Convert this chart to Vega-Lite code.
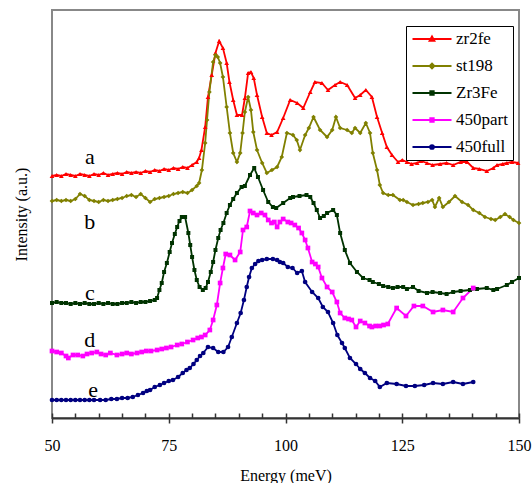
{
  "$schema": "https://vega.github.io/schema/vega-lite/v6.json",
  "width": 467,
  "height": 408,
  "autosize": {"type": "none"},
  "padding": {"left": 52, "top": 10, "right": 13, "bottom": 65},
  "background": "white",
  "config": {
    "view": {"stroke": "#888888", "strokeWidth": 2},
    "font": "Liberation Serif",
    "style": {
      "guide-label": {"font": "Liberation Serif", "fontSize": 16, "fill": "black"},
      "guide-title": {"font": "Liberation Serif", "fontSize": 16, "fontWeight": "normal", "fill": "black"}
    },
    "axis": {"labelFont": "Liberation Serif", "titleFont": "Liberation Serif", "labelFontSize": 16, "labelColor": "black",
      "titleFontSize": 16, "titleFontWeight": "normal", "titleColor": "black"},
    "axisX": {"labelFont": "Liberation Serif", "titleFont": "Liberation Serif", "titleFontWeight": "normal",
      "tickWidth": 1.5, "tickColor": "#333333", "domainColor": "#333333", "domainWidth": 2, "labelPadding": 14, "labelFlush": false, "titlePadding": 14,
      "gridColor": "#333333", "gridWidth": 1.5, "gridOpacity": 1},
    "axisY": {"labels": false, "ticks": false, "domain": false, "grid": false, "titlePadding": 23},
    "legend": {"labelFont": "Liberation Serif", "labelFontSize": 17, "labelColor": "black", "symbolOpacity": 1}
  },
  "datasets": {
    "series": [
      {"s":"zr2fe","E":50,"I":242},{"s":"zr2fe","E":51,"I":243},{"s":"zr2fe","E":52,"I":242},{"s":"zr2fe","E":53,"I":244},{"s":"zr2fe","E":54,"I":243},{"s":"zr2fe","E":55,"I":242},{"s":"zr2fe","E":56,"I":244},{"s":"zr2fe","E":57,"I":243},{"s":"zr2fe","E":58,"I":242},{"s":"zr2fe","E":59,"I":244},{"s":"zr2fe","E":60,"I":243},{"s":"zr2fe","E":61,"I":245},{"s":"zr2fe","E":62,"I":243},{"s":"zr2fe","E":63,"I":244},{"s":"zr2fe","E":64,"I":245},{"s":"zr2fe","E":65,"I":244},{"s":"zr2fe","E":66,"I":246},{"s":"zr2fe","E":67,"I":245},{"s":"zr2fe","E":68,"I":246},{"s":"zr2fe","E":69,"I":245},{"s":"zr2fe","E":70,"I":247},{"s":"zr2fe","E":71,"I":246},{"s":"zr2fe","E":72,"I":248},{"s":"zr2fe","E":73,"I":247},{"s":"zr2fe","E":74,"I":249},{"s":"zr2fe","E":75,"I":248},{"s":"zr2fe","E":76,"I":250},{"s":"zr2fe","E":77,"I":249},{"s":"zr2fe","E":78,"I":251},{"s":"zr2fe","E":79,"I":250},{"s":"zr2fe","E":80,"I":253},{"s":"zr2fe","E":81,"I":256},{"s":"zr2fe","E":81.5,"I":260},{"s":"zr2fe","E":82,"I":268},{"s":"zr2fe","E":82.8,"I":291},{"s":"zr2fe","E":83.4,"I":321},{"s":"zr2fe","E":84.2,"I":343},{"s":"zr2fe","E":85,"I":365},{"s":"zr2fe","E":85.8,"I":377},{"s":"zr2fe","E":86.6,"I":370},{"s":"zr2fe","E":87.4,"I":355},{"s":"zr2fe","E":88,"I":336},{"s":"zr2fe","E":88.8,"I":318},{"s":"zr2fe","E":89.6,"I":303},{"s":"zr2fe","E":90.7,"I":303},{"s":"zr2fe","E":91.3,"I":320},{"s":"zr2fe","E":92,"I":345},{"s":"zr2fe","E":92.6,"I":346},{"s":"zr2fe","E":93.2,"I":340},{"s":"zr2fe","E":93.9,"I":323},{"s":"zr2fe","E":95,"I":301},{"s":"zr2fe","E":96,"I":285},{"s":"zr2fe","E":97,"I":283},{"s":"zr2fe","E":98.2,"I":286},{"s":"zr2fe","E":99.5,"I":300},{"s":"zr2fe","E":101,"I":318},{"s":"zr2fe","E":102.5,"I":315},{"s":"zr2fe","E":103.8,"I":310},{"s":"zr2fe","E":105.3,"I":326},{"s":"zr2fe","E":106.3,"I":336},{"s":"zr2fe","E":107.8,"I":335},{"s":"zr2fe","E":109.1,"I":328},{"s":"zr2fe","E":110.6,"I":333},{"s":"zr2fe","E":111.7,"I":336},{"s":"zr2fe","E":113.2,"I":333},{"s":"zr2fe","E":114.9,"I":320},{"s":"zr2fe","E":116,"I":323},{"s":"zr2fe","E":117.2,"I":328},{"s":"zr2fe","E":118.5,"I":321},{"s":"zr2fe","E":119.6,"I":301},{"s":"zr2fe","E":120.7,"I":285},{"s":"zr2fe","E":121.7,"I":271},{"s":"zr2fe","E":122.8,"I":263},{"s":"zr2fe","E":124.1,"I":256},{"s":"zr2fe","E":125,"I":258},{"s":"zr2fe","E":126,"I":256},{"s":"zr2fe","E":127,"I":254},{"s":"zr2fe","E":128.2,"I":255},{"s":"zr2fe","E":129,"I":257},{"s":"zr2fe","E":130.3,"I":255},{"s":"zr2fe","E":131.5,"I":253},{"s":"zr2fe","E":133.1,"I":254},{"s":"zr2fe","E":134.5,"I":255},{"s":"zr2fe","E":135.9,"I":253},{"s":"zr2fe","E":137.5,"I":256},{"s":"zr2fe","E":138.9,"I":256},{"s":"zr2fe","E":140.2,"I":250},{"s":"zr2fe","E":141.5,"I":249},{"s":"zr2fe","E":143.1,"I":247},{"s":"zr2fe","E":144.5,"I":250},{"s":"zr2fe","E":145.3,"I":253},{"s":"zr2fe","E":146.5,"I":254},{"s":"zr2fe","E":147.4,"I":255},{"s":"zr2fe","E":148.5,"I":256},{"s":"zr2fe","E":149.8,"I":255},

      {"s":"st198","E":50,"I":217},{"s":"st198","E":51,"I":218},{"s":"st198","E":52,"I":217},{"s":"st198","E":53,"I":218},{"s":"st198","E":54,"I":217},{"s":"st198","E":55,"I":219},{"s":"st198","E":56,"I":224},{"s":"st198","E":57,"I":222},{"s":"st198","E":58,"I":218},{"s":"st198","E":59,"I":217},{"s":"st198","E":60,"I":216},{"s":"st198","E":61,"I":218},{"s":"st198","E":62,"I":217},{"s":"st198","E":63,"I":218},{"s":"st198","E":64,"I":219},{"s":"st198","E":65,"I":220},{"s":"st198","E":66,"I":222},{"s":"st198","E":67,"I":223},{"s":"st198","E":68,"I":221},{"s":"st198","E":69,"I":224},{"s":"st198","E":70,"I":220},{"s":"st198","E":71,"I":216},{"s":"st198","E":72,"I":219},{"s":"st198","E":73,"I":220},{"s":"st198","E":74,"I":221},{"s":"st198","E":75,"I":222},{"s":"st198","E":76,"I":224},{"s":"st198","E":77,"I":225},{"s":"st198","E":78,"I":226},{"s":"st198","E":79,"I":225},{"s":"st198","E":80,"I":228},{"s":"st198","E":81,"I":232},{"s":"st198","E":81.5,"I":235},{"s":"st198","E":82.1,"I":248},{"s":"st198","E":82.8,"I":275},{"s":"st198","E":83.2,"I":298},{"s":"st198","E":83.7,"I":326},{"s":"st198","E":84.5,"I":356},{"s":"st198","E":85,"I":363},{"s":"st198","E":85.5,"I":361},{"s":"st198","E":86,"I":355},{"s":"st198","E":86.6,"I":341},{"s":"st198","E":87.4,"I":311},{"s":"st198","E":88.1,"I":285},{"s":"st198","E":88.8,"I":265},{"s":"st198","E":89.6,"I":256},{"s":"st198","E":90.3,"I":265},{"s":"st198","E":90.8,"I":285},{"s":"st198","E":91.3,"I":306},{"s":"st198","E":92,"I":321},{"s":"st198","E":92.6,"I":308},{"s":"st198","E":93.1,"I":286},{"s":"st198","E":93.9,"I":268},{"s":"st198","E":95,"I":255},{"s":"st198","E":96,"I":245},{"s":"st198","E":97.1,"I":248},{"s":"st198","E":98.2,"I":251},{"s":"st198","E":99.2,"I":261},{"s":"st198","E":100.3,"I":285},{"s":"st198","E":101.6,"I":283},{"s":"st198","E":102.4,"I":278},{"s":"st198","E":103.1,"I":268},{"s":"st198","E":104.2,"I":283},{"s":"st198","E":105,"I":290},{"s":"st198","E":106,"I":301},{"s":"st198","E":107.4,"I":288},{"s":"st198","E":108.9,"I":281},{"s":"st198","E":110,"I":288},{"s":"st198","E":110.8,"I":301},{"s":"st198","E":111.7,"I":290},{"s":"st198","E":113.2,"I":288},{"s":"st198","E":114.2,"I":285},{"s":"st198","E":114.9,"I":290},{"s":"st198","E":116,"I":285},{"s":"st198","E":117.2,"I":295},{"s":"st198","E":118.1,"I":285},{"s":"st198","E":118.7,"I":265},{"s":"st198","E":119.6,"I":248},{"s":"st198","E":120.2,"I":233},{"s":"st198","E":120.9,"I":225},{"s":"st198","E":122,"I":223},{"s":"st198","E":123,"I":223},{"s":"st198","E":124.5,"I":218},{"s":"st198","E":125.2,"I":218},{"s":"st198","E":126,"I":216},{"s":"st198","E":127.3,"I":213},{"s":"st198","E":128.5,"I":214},{"s":"st198","E":129.4,"I":215},{"s":"st198","E":130.5,"I":216},{"s":"st198","E":131.4,"I":218},{"s":"st198","E":132,"I":211},{"s":"st198","E":132.9,"I":220},{"s":"st198","E":133.7,"I":211},{"s":"st198","E":135,"I":216},{"s":"st198","E":136.3,"I":222},{"s":"st198","E":137.8,"I":216},{"s":"st198","E":139.1,"I":213},{"s":"st198","E":140.2,"I":208},{"s":"st198","E":141.5,"I":205},{"s":"st198","E":142.7,"I":201},{"s":"st198","E":144,"I":199},{"s":"st198","E":144.9,"I":198},{"s":"st198","E":146,"I":201},{"s":"st198","E":147,"I":204},{"s":"st198","E":148,"I":201},{"s":"st198","E":148.8,"I":198},{"s":"st198","E":150,"I":195},

      {"s":"Zr3Fe","E":50,"I":115},{"s":"Zr3Fe","E":51,"I":116},{"s":"Zr3Fe","E":52,"I":115},{"s":"Zr3Fe","E":53,"I":115},{"s":"Zr3Fe","E":54,"I":114},{"s":"Zr3Fe","E":55,"I":115},{"s":"Zr3Fe","E":56,"I":114},{"s":"Zr3Fe","E":57,"I":115},{"s":"Zr3Fe","E":58,"I":114},{"s":"Zr3Fe","E":59,"I":114},{"s":"Zr3Fe","E":60,"I":115},{"s":"Zr3Fe","E":61,"I":114},{"s":"Zr3Fe","E":62,"I":115},{"s":"Zr3Fe","E":63,"I":114},{"s":"Zr3Fe","E":64,"I":114},{"s":"Zr3Fe","E":65,"I":115},{"s":"Zr3Fe","E":66,"I":115},{"s":"Zr3Fe","E":67,"I":116},{"s":"Zr3Fe","E":68,"I":115},{"s":"Zr3Fe","E":69,"I":116},{"s":"Zr3Fe","E":70,"I":116},{"s":"Zr3Fe","E":71,"I":117},{"s":"Zr3Fe","E":72,"I":118},{"s":"Zr3Fe","E":72.5,"I":120},{"s":"Zr3Fe","E":73,"I":128},{"s":"Zr3Fe","E":73.5,"I":135},{"s":"Zr3Fe","E":74,"I":146},{"s":"Zr3Fe","E":74.6,"I":155},{"s":"Zr3Fe","E":75.2,"I":166},{"s":"Zr3Fe","E":75.7,"I":175},{"s":"Zr3Fe","E":76.3,"I":184},{"s":"Zr3Fe","E":76.8,"I":191},{"s":"Zr3Fe","E":77.3,"I":197},{"s":"Zr3Fe","E":77.8,"I":201},{"s":"Zr3Fe","E":78.5,"I":201},{"s":"Zr3Fe","E":79.2,"I":185},{"s":"Zr3Fe","E":79.6,"I":173},{"s":"Zr3Fe","E":80,"I":161},{"s":"Zr3Fe","E":80.5,"I":148},{"s":"Zr3Fe","E":81,"I":138},{"s":"Zr3Fe","E":81.6,"I":131},{"s":"Zr3Fe","E":82.3,"I":128},{"s":"Zr3Fe","E":82.9,"I":130},{"s":"Zr3Fe","E":83.4,"I":136},{"s":"Zr3Fe","E":84,"I":146},{"s":"Zr3Fe","E":84.5,"I":156},{"s":"Zr3Fe","E":85,"I":168},{"s":"Zr3Fe","E":85.6,"I":180},{"s":"Zr3Fe","E":86.1,"I":188},{"s":"Zr3Fe","E":86.7,"I":195},{"s":"Zr3Fe","E":87.4,"I":205},{"s":"Zr3Fe","E":88.1,"I":213},{"s":"Zr3Fe","E":88.8,"I":219},{"s":"Zr3Fe","E":89.6,"I":225},{"s":"Zr3Fe","E":90.6,"I":231},{"s":"Zr3Fe","E":91.3,"I":232},{"s":"Zr3Fe","E":92.4,"I":243},{"s":"Zr3Fe","E":93.3,"I":250},{"s":"Zr3Fe","E":94.1,"I":241},{"s":"Zr3Fe","E":95.2,"I":228},{"s":"Zr3Fe","E":96.3,"I":216},{"s":"Zr3Fe","E":97.3,"I":211},{"s":"Zr3Fe","E":98,"I":210},{"s":"Zr3Fe","E":99.5,"I":215},{"s":"Zr3Fe","E":101,"I":220},{"s":"Zr3Fe","E":101.6,"I":221},{"s":"Zr3Fe","E":103,"I":222},{"s":"Zr3Fe","E":104.5,"I":223},{"s":"Zr3Fe","E":105.3,"I":221},{"s":"Zr3Fe","E":106,"I":215},{"s":"Zr3Fe","E":106.7,"I":208},{"s":"Zr3Fe","E":107.4,"I":200},{"s":"Zr3Fe","E":108.2,"I":202},{"s":"Zr3Fe","E":108.9,"I":205},{"s":"Zr3Fe","E":110.2,"I":208},{"s":"Zr3Fe","E":111,"I":203},{"s":"Zr3Fe","E":111.7,"I":185},{"s":"Zr3Fe","E":112.7,"I":168},{"s":"Zr3Fe","E":113.8,"I":155},{"s":"Zr3Fe","E":115.3,"I":146},{"s":"Zr3Fe","E":116.6,"I":140},{"s":"Zr3Fe","E":118,"I":138},{"s":"Zr3Fe","E":118.7,"I":136},{"s":"Zr3Fe","E":120,"I":134},{"s":"Zr3Fe","E":120.9,"I":132},{"s":"Zr3Fe","E":122,"I":131},{"s":"Zr3Fe","E":123,"I":130},{"s":"Zr3Fe","E":124,"I":131},{"s":"Zr3Fe","E":125.2,"I":131},{"s":"Zr3Fe","E":126,"I":129},{"s":"Zr3Fe","E":127.3,"I":131},{"s":"Zr3Fe","E":128.5,"I":127},{"s":"Zr3Fe","E":130.3,"I":125},{"s":"Zr3Fe","E":131.5,"I":126},{"s":"Zr3Fe","E":133.1,"I":125},{"s":"Zr3Fe","E":134.5,"I":124},{"s":"Zr3Fe","E":135.9,"I":126},{"s":"Zr3Fe","E":137.5,"I":127},{"s":"Zr3Fe","E":139.5,"I":128},{"s":"Zr3Fe","E":141,"I":129},{"s":"Zr3Fe","E":143.1,"I":130},{"s":"Zr3Fe","E":144.5,"I":128},{"s":"Zr3Fe","E":145.3,"I":129},{"s":"Zr3Fe","E":147.4,"I":133},{"s":"Zr3Fe","E":148.5,"I":136},{"s":"Zr3Fe","E":150,"I":140},

      {"s":"450part","E":50,"I":67},{"s":"450part","E":51,"I":66},{"s":"450part","E":52,"I":65},{"s":"450part","E":53,"I":62},{"s":"450part","E":53.5,"I":60},{"s":"450part","E":54.5,"I":63},{"s":"450part","E":55.5,"I":63},{"s":"450part","E":56.6,"I":62},{"s":"450part","E":57.5,"I":64},{"s":"450part","E":58.5,"I":65},{"s":"450part","E":59.6,"I":66},{"s":"450part","E":60.5,"I":64},{"s":"450part","E":61.5,"I":63},{"s":"450part","E":62.5,"I":65},{"s":"450part","E":63.9,"I":63},{"s":"450part","E":65,"I":64},{"s":"450part","E":66,"I":65},{"s":"450part","E":67,"I":64},{"s":"450part","E":68.2,"I":65},{"s":"450part","E":69.2,"I":66},{"s":"450part","E":70.2,"I":67},{"s":"450part","E":71.2,"I":67},{"s":"450part","E":72.5,"I":68},{"s":"450part","E":73.5,"I":69},{"s":"450part","E":74.5,"I":70},{"s":"450part","E":75.5,"I":71},{"s":"450part","E":76.8,"I":73},{"s":"450part","E":77.8,"I":74},{"s":"450part","E":79,"I":76},{"s":"450part","E":80.2,"I":78},{"s":"450part","E":81.2,"I":80},{"s":"450part","E":82,"I":81},{"s":"450part","E":82.8,"I":83},{"s":"450part","E":83.8,"I":88},{"s":"450part","E":84.5,"I":98},{"s":"450part","E":85.3,"I":113},{"s":"450part","E":86,"I":135},{"s":"450part","E":86.6,"I":150},{"s":"450part","E":87.2,"I":164},{"s":"450part","E":88.1,"I":163},{"s":"450part","E":89.2,"I":158},{"s":"450part","E":90.3,"I":166},{"s":"450part","E":90.9,"I":188},{"s":"450part","E":91.7,"I":191},{"s":"450part","E":92.4,"I":207},{"s":"450part","E":93.1,"I":205},{"s":"450part","E":93.9,"I":203},{"s":"450part","E":94.8,"I":205},{"s":"450part","E":95.6,"I":203},{"s":"450part","E":96.3,"I":198},{"s":"450part","E":97,"I":195},{"s":"450part","E":97.6,"I":196},{"s":"450part","E":98.2,"I":191},{"s":"450part","E":98.8,"I":196},{"s":"450part","E":99.5,"I":199},{"s":"450part","E":100.5,"I":196},{"s":"450part","E":101.2,"I":195},{"s":"450part","E":102,"I":193},{"s":"450part","E":102.8,"I":190},{"s":"450part","E":103.5,"I":185},{"s":"450part","E":104.2,"I":178},{"s":"450part","E":104.8,"I":170},{"s":"450part","E":105.7,"I":156},{"s":"450part","E":106.4,"I":154},{"s":"450part","E":107,"I":151},{"s":"450part","E":107.8,"I":140},{"s":"450part","E":108.9,"I":131},{"s":"450part","E":110,"I":126},{"s":"450part","E":111,"I":116},{"s":"450part","E":111.7,"I":105},{"s":"450part","E":112.7,"I":100},{"s":"450part","E":113.5,"I":99},{"s":"450part","E":114.2,"I":98},{"s":"450part","E":115.1,"I":91},{"s":"450part","E":116,"I":97},{"s":"450part","E":117,"I":95},{"s":"450part","E":118,"I":92},{"s":"450part","E":118.5,"I":91},{"s":"450part","E":119.3,"I":92},{"s":"450part","E":120.2,"I":92},{"s":"450part","E":121,"I":93},{"s":"450part","E":121.9,"I":94},{"s":"450part","E":123.8,"I":110},{"s":"450part","E":125.8,"I":102},{"s":"450part","E":127.5,"I":112},{"s":"450part","E":129.4,"I":112},{"s":"450part","E":131.6,"I":106},{"s":"450part","E":133.7,"I":108},{"s":"450part","E":135.9,"I":106},{"s":"450part","E":138,"I":120},{"s":"450part","E":140.2,"I":130},

      {"s":"450full","E":50,"I":18},{"s":"450full","E":51,"I":18},{"s":"450full","E":52,"I":18},{"s":"450full","E":53,"I":18},{"s":"450full","E":54,"I":18},{"s":"450full","E":55,"I":18},{"s":"450full","E":56,"I":18},{"s":"450full","E":57,"I":18},{"s":"450full","E":58,"I":18},{"s":"450full","E":59,"I":18},{"s":"450full","E":60.3,"I":18},{"s":"450full","E":61.5,"I":18},{"s":"450full","E":62.7,"I":19},{"s":"450full","E":63.9,"I":19},{"s":"450full","E":65,"I":20},{"s":"450full","E":66.2,"I":20},{"s":"450full","E":67.3,"I":21},{"s":"450full","E":68.4,"I":23},{"s":"450full","E":69.5,"I":25},{"s":"450full","E":70.3,"I":27},{"s":"450full","E":71,"I":28},{"s":"450full","E":72,"I":31},{"s":"450full","E":73.1,"I":33},{"s":"450full","E":74,"I":35},{"s":"450full","E":75,"I":37},{"s":"450full","E":75.9,"I":38},{"s":"450full","E":77,"I":41},{"s":"450full","E":78,"I":45},{"s":"450full","E":78.8,"I":48},{"s":"450full","E":79.5,"I":50},{"s":"450full","E":80.3,"I":54},{"s":"450full","E":81,"I":58},{"s":"450full","E":81.7,"I":62},{"s":"450full","E":82.4,"I":65},{"s":"450full","E":83.4,"I":71},{"s":"450full","E":84.5,"I":70},{"s":"450full","E":85.6,"I":66},{"s":"450full","E":86.7,"I":66},{"s":"450full","E":87.7,"I":71},{"s":"450full","E":88.5,"I":81},{"s":"450full","E":89.6,"I":95},{"s":"450full","E":90.4,"I":105},{"s":"450full","E":91.1,"I":118},{"s":"450full","E":91.7,"I":131},{"s":"450full","E":92.2,"I":141},{"s":"450full","E":92.8,"I":150},{"s":"450full","E":93.5,"I":154},{"s":"450full","E":94.2,"I":157},{"s":"450full","E":95,"I":158},{"s":"450full","E":96,"I":159},{"s":"450full","E":97.3,"I":159},{"s":"450full","E":98.2,"I":158},{"s":"450full","E":98.8,"I":156},{"s":"450full","E":99.5,"I":155},{"s":"450full","E":100.5,"I":151},{"s":"450full","E":101.5,"I":150},{"s":"450full","E":102.5,"I":145},{"s":"450full","E":103.5,"I":147},{"s":"450full","E":104.2,"I":136},{"s":"450full","E":105.7,"I":126},{"s":"450full","E":107,"I":120},{"s":"450full","E":108,"I":111},{"s":"450full","E":109.1,"I":106},{"s":"450full","E":110.2,"I":95},{"s":"450full","E":111.1,"I":83},{"s":"450full","E":112.1,"I":75},{"s":"450full","E":112.7,"I":70},{"s":"450full","E":113.8,"I":60},{"s":"450full","E":115.1,"I":54},{"s":"450full","E":116,"I":49},{"s":"450full","E":117,"I":45},{"s":"450full","E":118.1,"I":40},{"s":"450full","E":119.2,"I":37},{"s":"450full","E":120.2,"I":31},{"s":"450full","E":121.7,"I":35},{"s":"450full","E":123.8,"I":34},{"s":"450full","E":125.8,"I":32},{"s":"450full","E":127.7,"I":32},{"s":"450full","E":129.7,"I":33},{"s":"450full","E":131.6,"I":35},{"s":"450full","E":133.7,"I":34},{"s":"450full","E":135.9,"I":36},{"s":"450full","E":138,"I":34},{"s":"450full","E":140.2,"I":36}
    ],
    "labels": [
      {"t":"a","E":58.1,"I":261},
      {"t":"b","E":58.1,"I":196},
      {"t":"c","E":58.1,"I":125},
      {"t":"d","E":58.1,"I":78},
      {"t":"e","E":58.8,"I":28}
    ]
  },
  "encoding": {
    "x": {"field": "E", "type": "quantitative", "scale": {"domain": [50, 150], "nice": false, "zero": false},
      "axis": {"title": "Energy (meV)", "values": [50,55,60,65,70,75,80,85,90,95,100,105,110,115,120,125,130,135,140,145,150],
        "labelExpr": "datum.value % 25 === 0 ? datum.label : ''", "labelOverlap": false, "tickSize": 5,
        "labelFont": "Liberation Serif", "labelFontSize": 16, "labelColor": "black",
        "titleFont": "Liberation Serif", "titleFontSize": 16, "titleFontWeight": "normal", "titleColor": "black",
        "tickOpacity": {"condition": {"test": "datum.value % 25 === 0", "value": 1}, "value": 0},
        "grid": true, "gridDash": [5, 403], "gridDashOffset": 5}},
    "y": {"field": "I", "type": "quantitative", "scale": {"domain": [0, 408], "nice": false, "zero": false},
      "axis": {"title": "Intensity (a.u.)"}}
  },
  "layer": [
    {
      "data": {"name": "series"},
      "mark": {"type": "line", "strokeWidth": 1.8},
      "encoding": {
        "color": {"field": "s", "type": "nominal", "title": null,
          "scale": {"domain": ["zr2fe", "st198", "Zr3Fe", "450part", "450full"], "range": ["#FF0000", "#808000", "#003300", "#FF00FF", "#000080"]},
          "legend": {"orient": "none", "legendX": 354, "legendY": 16, "strokeColor": "black", "fillColor": "white", "padding": 5,
            "labelFont": "Liberation Serif", "labelFontSize": 17, "labelColor": "black",
            "labelOffset": 3, "clipHeight": 16, "rowPadding": 10, "symbolSize": 1521, "symbolStrokeWidth": 2.2}}
      }
    },
    {
      "data": {"name": "series"},
      "transform": [{"filter": {"field": "s", "equal": "zr2fe"}}],
      "mark": {"type": "point", "filled": true, "opacity": 1, "size": 22, "shape": "triangle-up"},
      "encoding": {
        "color": {"field": "s", "type": "nominal", "title": null,
          "legend": {"orient": "none", "legendX": 354, "legendY": 16, "strokeColor": "black", "fillColor": "white", "padding": 5,
            "labelFont": "Liberation Serif", "labelFontSize": 17, "labelColor": "black",
            "labelOffset": 3, "clipHeight": 16, "rowPadding": 10, "symbolSize": 1521, "symbolStrokeWidth": 2.2}}
      }
    },
    {
      "data": {"name": "series"},
      "transform": [{"filter": {"field": "s", "equal": "st198"}}],
      "mark": {"type": "point", "filled": true, "opacity": 1, "size": 22, "shape": "diamond"},
      "encoding": {
        "color": {"field": "s", "type": "nominal", "title": null,
          "legend": {"orient": "none", "legendX": 354, "legendY": 16, "strokeColor": "black", "fillColor": "white", "padding": 5,
            "labelFont": "Liberation Serif", "labelFontSize": 17, "labelColor": "black",
            "labelOffset": 3, "clipHeight": 16, "rowPadding": 10, "symbolSize": 1521, "symbolStrokeWidth": 2.2}}
      }
    },
    {
      "data": {"name": "series"},
      "transform": [{"filter": {"field": "s", "equal": "Zr3Fe"}}],
      "mark": {"type": "point", "filled": true, "opacity": 1, "size": 16, "shape": "square"},
      "encoding": {
        "color": {"field": "s", "type": "nominal", "title": null,
          "legend": {"orient": "none", "legendX": 354, "legendY": 16, "strokeColor": "black", "fillColor": "white", "padding": 5,
            "labelFont": "Liberation Serif", "labelFontSize": 17, "labelColor": "black",
            "labelOffset": 3, "clipHeight": 16, "rowPadding": 10, "symbolSize": 1521, "symbolStrokeWidth": 2.2}}
      }
    },
    {
      "data": {"name": "series"},
      "transform": [{"filter": {"field": "s", "equal": "450part"}}],
      "mark": {"type": "point", "filled": true, "opacity": 1, "size": 22, "shape": "square"},
      "encoding": {
        "color": {"field": "s", "type": "nominal", "title": null,
          "legend": {"orient": "none", "legendX": 354, "legendY": 16, "strokeColor": "black", "fillColor": "white", "padding": 5,
            "labelFont": "Liberation Serif", "labelFontSize": 17, "labelColor": "black",
            "labelOffset": 3, "clipHeight": 16, "rowPadding": 10, "symbolSize": 1521, "symbolStrokeWidth": 2.2}}
      }
    },
    {
      "data": {"name": "series"},
      "transform": [{"filter": {"field": "s", "equal": "450full"}}],
      "mark": {"type": "point", "filled": true, "opacity": 1, "size": 22, "shape": "circle"},
      "encoding": {
        "color": {"field": "s", "type": "nominal", "title": null,
          "legend": {"orient": "none", "legendX": 354, "legendY": 16, "strokeColor": "black", "fillColor": "white", "padding": 5,
            "labelFont": "Liberation Serif", "labelFontSize": 17, "labelColor": "black",
            "labelOffset": 3, "clipHeight": 16, "rowPadding": 10, "symbolSize": 1521, "symbolStrokeWidth": 2.2}}
      }
    },
    {
      "data": {"name": "series"},
      "mark": {"type": "point", "filled": false, "opacity": 0},
      "encoding": {
        "color": {"field": "s", "type": "nominal", "title": null,
          "legend": {"orient": "none", "legendX": 354, "legendY": 16, "strokeColor": "black", "fillColor": "white", "padding": 5,
            "labelFont": "Liberation Serif", "labelFontSize": 17, "labelColor": "black",
            "labelOffset": 3, "clipHeight": 16, "rowPadding": 10, "symbolSize": 1521, "symbolStrokeWidth": 2.2}},
        "shape": {"field": "s", "type": "nominal", "title": null,
          "scale": {"domain": ["zr2fe", "st198", "Zr3Fe", "450part", "450full"],
            "range": ["M-1,0H1M0,-0.12L0.11,0.08L-0.11,0.08Z", "M-1,0H1M0,-0.11L0.11,0L0,0.11L-0.11,0Z", "M-1,0H1M-0.08,-0.08H0.08V0.08H-0.08Z", "M-1,0H1M-0.08,-0.08H0.08V0.08H-0.08Z", "M-1,0H1M-0.09,0A0.09,0.09 0 1,0 0.09,0A0.09,0.09 0 1,0 -0.09,0Z"]},
          "legend": {"orient": "none", "legendX": 354, "legendY": 16, "strokeColor": "black", "fillColor": "white", "padding": 5,
            "labelFont": "Liberation Serif", "labelFontSize": 17, "labelColor": "black",
            "labelOffset": 3, "clipHeight": 16, "rowPadding": 10, "symbolSize": 1521, "symbolStrokeWidth": 2.2}}
      }
    },
    {
      "data": {"name": "labels"},
      "mark": {"type": "text", "font": "Liberation Serif", "fontSize": 22, "color": "black", "align": "center", "baseline": "middle"},
      "encoding": {
        "text": {"field": "t", "type": "nominal"}
      }
    }
  ]
}
